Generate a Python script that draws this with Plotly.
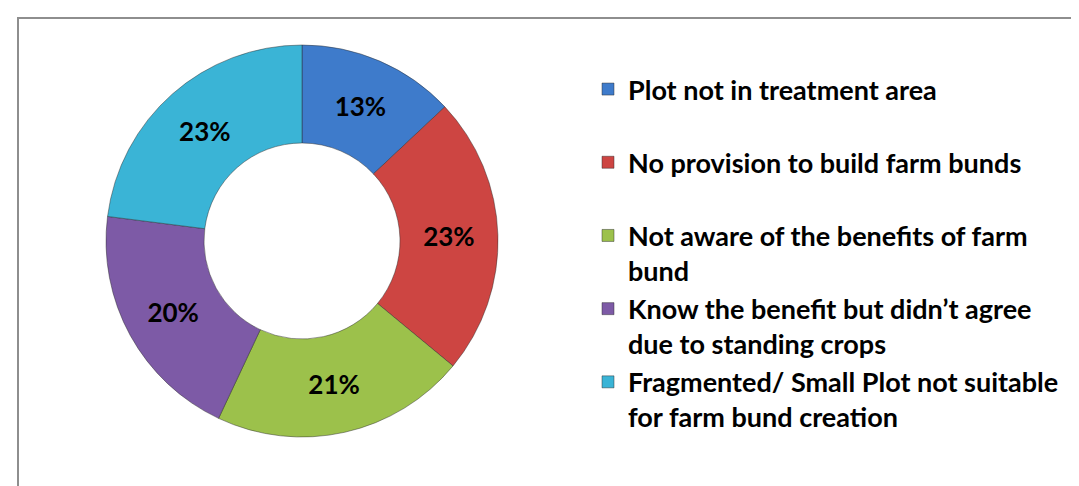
import plotly.graph_objects as go

legend_labels = [
    "Plot not in treatment area<br> ",
    "No provision to build farm bunds<br> ",
    "Not aware of the benefits of farm<br>bund",
    "Know the benefit but didn\u2019t agree<br>due to standing crops",
    "Fragmented/ Small Plot not suitable<br>for farm bund creation",
]
values = [13, 23, 21, 20, 23]
colors = ["#3E7BCB", "#CD4542", "#9CC14B", "#7D5AA6", "#3AB4D6"]

W, H = 1079, 486
cx, cy, r = 294, 233, 196

fig = go.Figure()
fig.add_trace(go.Pie(
    labels=legend_labels,
    values=values,
    hole=0.5,
    sort=False,
    direction="clockwise",
    rotation=0,
    marker=dict(colors=colors, line=dict(color="rgba(40,40,40,0.45)", width=1)),
    texttemplate="%{percent:.0%}",
    textposition="inside",
    insidetextorientation="horizontal",
    textfont=dict(family="Lato", size=26, color="black", weight="bold"),
    domain=dict(x=[(cx - r) / W, (cx + r) / W], y=[(H - cy - r) / H, (H - cy + r) / H]),
    hoverinfo="label+percent",
))

fig.update_layout(
    width=W, height=H,
    margin=dict(l=0, r=0, t=0, b=0),
    paper_bgcolor="white",
    plot_bgcolor="white",
    showlegend=True,
    legend=dict(
        x=580 / W, xanchor="left",
        y=1 - 57 / H, yanchor="top",
        valign="top",
        font=dict(family="Lato", size=27, color="black", weight="bold"),
        bgcolor="rgba(0,0,0,0)",
    ),
    shapes=[dict(
        type="rect", xref="paper", yref="paper",
        x0=10 / W, x1=1.02, y0=-0.02, y1=1 - 10 / H,
        line=dict(color="#8E8E8E", width=2),
        fillcolor="rgba(0,0,0,0)",
        layer="below",
    )],
)

fig.write_html("out.html")
